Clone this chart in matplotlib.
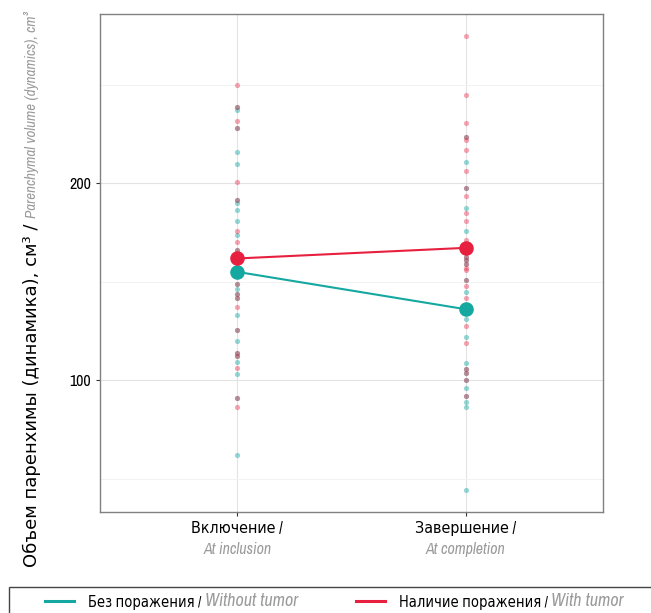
"""Parenchymal volume dynamics: individual values and group means."""

import matplotlib

matplotlib.use("Agg")
import matplotlib.pyplot as plt
from matplotlib import font_manager
from matplotlib.lines import Line2D
from matplotlib.patches import Rectangle
from matplotlib.ticker import MultipleLocator
import matplotlib.transforms as mtransforms

# pick a narrow face if one is around
names = {f.name for f in font_manager.fontManager.ttflist}
narrow = sorted(n for n in names if "Narrow" in n or "Condensed" in n)
plt.rcParams["font.family"] = narrow[:1] + ["DejaVu Sans"]
plt.rcParams["font.stretch"] = "condensed"

TEAL = "#14a8a0"
RED = "#e8203f"
GREY_TXT = "#9a9a9a"

stages = ["Включение /", "Завершение /"]
stages_en = ["At inclusion", "At completion"]
groups = ["Без поражения / ", "Наличие поражения / "]
groups_en = ["Without tumor", "With tumor"]

incl_teal = [238.7, 237, 228, 216, 210, 191.4, 190, 186.3, 180.7, 173.6, 166.3, 149, 146.5,
             144, 141.5, 133, 125.4, 120, 114, 112, 109, 103, 90.7, 62]
incl_red = [250, 238.7, 231.5, 228, 200.7, 191.4, 176, 170, 166.3, 149, 144, 141.5, 137,
            125.4, 114, 112, 106, 90.7, 86.5]
comp_teal = [223.5, 211, 197.8, 187.6, 175.8, 161, 162.6, 159, 150.8, 145, 131, 122, 108.8,
             105.4, 103.4, 100, 95.8, 92, 89, 86.5, 44]
comp_red = [274.8, 245, 230.8, 223.5, 221.8, 217, 206, 197.8, 193.4, 185, 180.7, 171, 161,
            157, 162.6, 159, 156, 150.8, 148, 141.5, 127.4, 119, 105.4, 103.4, 100, 92]
mean_teal = [155, 136]
mean_red = [161.8, 167.2]

W, H = 651, 613
fig = plt.figure(figsize=(W / 100, H / 100), dpi=100)
ax = fig.add_axes([100 / W, 1 - 512 / H, 503 / W, 498 / H])

x = [1, 2]
for xi, vals in ((1, incl_teal), (2, comp_teal)):
    ax.scatter([xi] * len(vals), vals, s=14, color=TEAL, alpha=0.45, lw=0, zorder=3)
for xi, vals in ((1, incl_red), (2, comp_red)):
    ax.scatter([xi] * len(vals), vals, s=14, color=RED, alpha=0.4, lw=0, zorder=3)

ax.plot(x, mean_teal, color=TEAL, lw=1.5, zorder=4)
ax.plot(x, mean_red, color=RED, lw=1.5, zorder=4)
ax.scatter(x, mean_teal, s=110, color=TEAL, lw=0, zorder=5)
ax.scatter(x, mean_red, s=110, color=RED, lw=0, zorder=5)

ax.set_xlim(0.4, 2.6)
ax.set_ylim(33, 286)
ax.yaxis.set_major_locator(MultipleLocator(100))
ax.yaxis.set_minor_locator(MultipleLocator(50))
ax.set_xticks(x)
ax.set_xticklabels(stages)
ax.tick_params(axis="both", which="major", length=3, color="#333333", labelsize=11.5)
ax.tick_params(axis="y", which="minor", length=0)
ax.grid(True, which="major", color="#e3e3e3", lw=0.8)
ax.grid(True, which="minor", axis="y", color="#f0f0f0", lw=0.6)
ax.set_axisbelow(True)
for sp in ax.spines.values():
    sp.set_color("#808080")
    sp.set_linewidth(1.0)

trans = mtransforms.blended_transform_factory(ax.transData, ax.transAxes)
for xi, lab in zip(x, stages_en):
    ax.text(xi, -0.06, lab, transform=trans, ha="center", va="top", fontsize=11.5,
            style="italic", color=GREY_TXT)

# legend: one small legend per group, box drawn round both
legs = []
for h_col, lab, x0 in ((TEAL, groups[0], 45), (RED, groups[1], 356)):
    lg = fig.legend([Line2D([], [], color=h_col, lw=2.2)], [lab], loc="center left",
                    bbox_to_anchor=(x0 / W, 1 - 602 / H), frameon=False, fontsize=10.5,
                    handlelength=2.0, handletextpad=0.95, borderpad=0, borderaxespad=0)
    legs.append(lg)
fig.patches.append(Rectangle((9 / W, -0.02), 1.0, 0.02 + 1 - 587 / H,
                             transform=fig.transFigure, fill=False,
                             edgecolor="#444444", lw=1.0))

# y label: black Russian part in a wider face
ylab = fig.text(32 / W, 1 - 567 / H, "Объем паренхимы (динамика), см³ / ", rotation=90,
                ha="center", va="bottom", fontsize=13, family="DejaVu Sans",
                fontstretch="normal")

fig.canvas.draw()
r = fig.canvas.get_renderer()
inv = fig.transFigure.inverted()

# English parts in grey italic, right after the Russian ones
for lg, en in zip(legs, groups_en):
    bb = lg.get_texts()[0].get_window_extent(r)
    x1, y0 = inv.transform((bb.x1, bb.y0))
    fig.text(x1, y0, en, ha="left", va="bottom", fontsize=13, style="italic",
             color=GREY_TXT)

bb = ylab.get_window_extent(r)
xc, y1 = inv.transform(((bb.x0 + bb.x1) / 2, bb.y1))
fig.text(xc, y1, "Parenchymal volume (dynamics), cm³", rotation=90, ha="center",
         va="bottom", fontsize=10.8, style="italic", color=GREY_TXT)

fig.savefig("out.png", dpi=100)
